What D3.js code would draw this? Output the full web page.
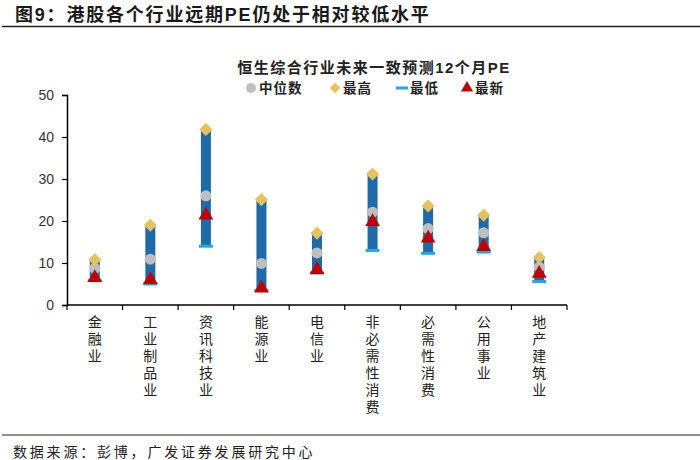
<!DOCTYPE html>
<html>
<head>
<meta charset="utf-8">
<script src="https://cdn.jsdelivr.net/npm/d3@7"></script>
<style>
  body { margin: 0; background: #fff; }
  svg text { font-family: "Liberation Sans", "Noto Sans CJK SC", sans-serif; }
</style>
</head>
<body>
<div id="chart"></div>
<script>
// 行业分类
var categories = ['金融业', '工业制品业', '资讯科技业', '能源业', '电信业', '非必需性消费', '必需性消费', '公用事业', '地产建筑业'];
// PE 数据
var medianPE = [8.7, 10.9, 26.0, 9.9, 12.4, 22.1, 18.2, 17.2, 9.0];
var highPE   = [10.8, 19.0, 41.8, 25.1, 17.1, 31.2, 23.6, 21.4, 11.3];
var lowPE    = [5.8, 5.0, 14.0, 3.5, 7.6, 13.0, 12.3, 12.6, 5.6];
var latestPE = [6.5, 6.0, 21.4, 4.0, 8.4, 19.8, 15.9, 13.9, 7.5];
var yTicks = [0, 10, 20, 30, 40, 50];

var width = 700, height = 460;
var margin = { left: 67, right: 133, top: 95, bottom: 155 };

var svg = d3.select('#chart').append('svg')
    .attr('width', width)
    .attr('height', height);

// 标题
svg.append('text')
    .attr('x', 15).attr('y', 21)
    .attr('font-size', 18).attr('font-weight', 'bold')
    .attr('letter-spacing', 1.8)
    .attr('font-family', '"Noto Sans CJK SC", sans-serif')
    .attr('fill', '#1a1a1a')
    .text('图9：港股各个行业远期PE仍处于相对较低水平');
svg.append('line')
    .attr('x1', 2).attr('x2', width)
    .attr('y1', 26.5).attr('y2', 26.5)
    .attr('stroke', '#222').attr('stroke-width', 1.5);

svg.append('text')
    .attr('x', 374).attr('y', 73)
    .attr('text-anchor', 'middle')
    .attr('font-size', 15).attr('font-weight', 'bold')
    .attr('letter-spacing', 1.5)
    .attr('font-family', '"Noto Sans CJK SC", sans-serif')
    .attr('fill', '#222')
    .text('恒生综合行业未来一致预测12个月PE');

var data = categories.map(function(c, i) {
    return { name: c, median: medianPE[i], high: highPE[i], low: lowPE[i], latest: latestPE[i] };
});

var x = d3.scaleBand()
    .domain(categories)
    .range([margin.left, width - margin.right]);

var y = d3.scaleLinear()
    .domain([0, 50])
    .range([height - margin.bottom, margin.top]);

// 坐标轴
var yAxis = svg.append('g')
    .attr('transform', 'translate(' + margin.left + ',0)')
    .call(d3.axisLeft(y).tickValues(yTicks).tickSize(5).tickPadding(8));
yAxis.select('.domain').attr('stroke', '#000').attr('stroke-width', 1.5);
yAxis.selectAll('.tick line').attr('stroke', '#000').attr('stroke-width', 1.2);
yAxis.selectAll('.tick text')
    .attr('font-size', 14).attr('fill', '#333')
    .attr('font-family', '"Liberation Sans", Arial, sans-serif');

var xAxisG = svg.append('g')
    .attr('transform', 'translate(0,' + y(0) + ')');
xAxisG.append('line')
    .attr('x1', margin.left).attr('x2', width - margin.right)
    .attr('stroke', '#000').attr('stroke-width', 1.5);
var bounds = categories.map(function(c) { return x(c); }).concat([x.range()[1]]);
xAxisG.selectAll('line.tk').data(bounds).enter().append('line')
    .attr('class', 'tk')
    .attr('x1', function(d) { return d; }).attr('x2', function(d) { return d; })
    .attr('y1', 0).attr('y2', 5)
    .attr('stroke', '#000').attr('stroke-width', 1.2);

// 竖排分类标签
var labels = svg.selectAll('text.cat').data(categories).enter().append('text')
    .attr('class', 'cat')
    .attr('text-anchor', 'middle')
    .attr('font-size', 14)
    .attr('fill', '#222')
    .attr('font-family', '"Noto Sans CJK SC", sans-serif');
labels.each(function(d) {
    var t = d3.select(this);
    var cx = x(d) + x.bandwidth() / 2;
    d.split('').forEach(function(ch, k) {
        t.append('tspan')
            .attr('x', cx)
            .attr('y', y(0) + 22 + k * 17)
            .text(ch);
    });
});

var cx = function(d) { return x(d.name) + x.bandwidth() / 2; };

// 区间柱
svg.selectAll('rect.range').data(data).enter().append('rect')
    .attr('class', 'range')
    .attr('x', function(d) { return cx(d) - 5; })
    .attr('width', 10)
    .attr('y', function(d) { return y(d.high); })
    .attr('height', function(d) { return y(d.low) - y(d.high); })
    .attr('fill', '#1f6aa8');

// 中位数
svg.selectAll('circle.med').data(data).enter().append('circle')
    .attr('class', 'med')
    .attr('cx', cx)
    .attr('cy', function(d) { return y(d.median); })
    .attr('r', 5.5)
    .attr('fill', '#bfbfbf');

// 最高
var diamond = d3.symbol().type(d3.symbolDiamond2).size(110);
svg.selectAll('path.high').data(data).enter().append('path')
    .attr('class', 'high')
    .attr('d', diamond)
    .attr('transform', function(d) { return 'translate(' + cx(d) + ',' + y(d.high) + ')'; })
    .attr('fill', '#e5c260');

// 最低
svg.selectAll('rect.low').data(data).enter().append('rect')
    .attr('class', 'low')
    .attr('x', function(d) { return cx(d) - 7; })
    .attr('width', 14)
    .attr('y', function(d) { return y(d.low) - 1.5; })
    .attr('height', 3)
    .attr('fill', '#1ea8e6');

// 最新
var tri = d3.symbol().type(d3.symbolTriangle).size(95);
svg.selectAll('path.latest').data(data).enter().append('path')
    .attr('class', 'latest')
    .attr('d', tri)
    .attr('transform', function(d) { return 'translate(' + cx(d) + ',' + y(d.latest) + ')'; })
    .attr('fill', '#c00000');

// 图例
var legend = svg.append('g').attr('transform', 'translate(0,88)');
var lg = [
    { key: '中位数', x: 251 },
    { key: '最高', x: 335 },
    { key: '最低', x: 402 },
    { key: '最新', x: 467 }
];
legend.append('circle').attr('cx', lg[0].x).attr('cy', 0).attr('r', 5).attr('fill', '#bfbfbf');
legend.append('path').attr('d', d3.symbol().type(d3.symbolDiamond2).size(70))
    .attr('transform', 'translate(' + lg[1].x + ',0)').attr('fill', '#e5c260');
legend.append('rect').attr('x', lg[2].x - 6).attr('y', -1.5).attr('width', 12).attr('height', 3).attr('fill', '#1ea8e6');
legend.append('path').attr('d', d3.symbol().type(d3.symbolTriangle).size(65))
    .attr('transform', 'translate(' + lg[3].x + ',0)').attr('fill', '#c00000');
legend.selectAll('text').data(lg).enter().append('text')
    .attr('x', function(d) { return d.x + 8; })
    .attr('y', 5)
    .attr('font-size', 13.5).attr('font-weight', 'bold')
    .attr('letter-spacing', 1)
    .attr('font-family', '"Noto Sans CJK SC", sans-serif')
    .attr('fill', '#222')
    .text(function(d) { return d.key; });

// 来源
svg.append('line')
    .attr('x1', 2).attr('x2', width)
    .attr('y1', 435).attr('y2', 435)
    .attr('stroke', '#222').attr('stroke-width', 1.2);
svg.append('text')
    .attr('x', 13).attr('y', 457)
    .attr('font-size', 14).attr('fill', '#222')
    .attr('letter-spacing', 2.8)
    .attr('font-family', '"Noto Sans CJK SC", sans-serif')
    .text('数据来源：彭博，广发证券发展研究中心');
</script>
</body>
</html>
